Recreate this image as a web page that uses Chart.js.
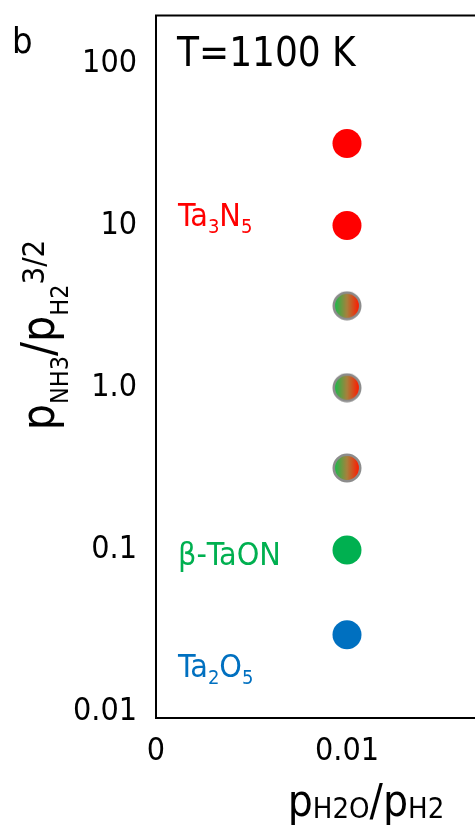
<!DOCTYPE html>
<html>
<head>
<meta charset="utf-8">
<script src="https://cdn.jsdelivr.net/npm/chart.js@4.4.1/dist/chart.umd.min.js"></script>
<style>
    html, body { margin: 0; padding: 0; background: #fff; overflow: hidden; }
    #wrap { width: 560px; height: 826px; }
</style>
</head>
<body>
<div id="wrap"><canvas id="phaseChart"></canvas></div>
<script>
// axis ticks
const xTickValues = [0, 0.01];
const xTickLabels = ['0', '0.01'];
const yTickValues = [100, 10, 1, 0.1, 0.01];
const yTickLabels = ['100', '10', '1.0', '0.1', '0.01'];

// measured points, all at pH2O/pH2 = 0.01
const waterRatio = 0.01;
const ta3n5Values = [32, 10];
const mixedValues = [3.2, 1, 0.32];
const taonValues = [0.1];
const ta2o5Values = [0.03];

// phase names: [text, 'sub' | 'sup' | ''] pieces
const ta3n5Name = [['Ta', ''], ['3', 'sub'], ['N', ''], ['5', 'sub']];
const taonName = [['β-TaON', '']];
const ta2o5Name = [['Ta', ''], ['2', 'sub'], ['O', ''], ['5', 'sub']];
const yTitle = [['p', ''], ['NH3', 'sub'], ['/p', ''], ['H2', 'sub'], ['3/2', 'sup']];
const xTitle = [['p', ''], ['H2O', 'sub'], ['/p', ''], ['H2', 'sub']];
const panelLetter = 'b';
const tempLabel = 'T=1100 K';

const FONT = '"DejaVu Sans Condensed", "DejaVu Sans", sans-serif';
const RED = '#FF0000';
const GREEN = '#00B050';
const BLUE = '#0070C0';

function points(values) {
    return values.map(v => ({ x: waterRatio, y: v }));
}

// red/green mixed marker
function mixedMarker() {
    const c = document.createElement('canvas');
    c.width = 30; c.height = 30;
    const g = c.getContext('2d');
    const grad = g.createLinearGradient(3, 0, 27, 0);
    grad.addColorStop(0, '#1FB84A');
    grad.addColorStop(0.5, '#A8803C');
    grad.addColorStop(1, '#FF1A00');
    g.beginPath();
    g.arc(15, 15, 13.2, 0, Math.PI * 2);
    g.fillStyle = grad;
    g.fill();
    g.lineWidth = 2.6;
    g.strokeStyle = '#8C8C8C';
    g.stroke();
    return c;
}

// style: {size, sub, subDy, sup, supDy}
function partFont(style, k) {
    return `${k === 'sub' ? style.sub : (k === 'sup' ? style.sup : style.size)}px ${FONT}`;
}

function drawRich(ctx, parts, x, y, style, color, align) {
    let total = 0;
    parts.forEach(([t, k]) => {
        ctx.font = partFont(style, k);
        total += ctx.measureText(t).width;
    });
    let cx = align === 'center' ? x - total / 2 : x;
    ctx.fillStyle = color;
    ctx.textAlign = 'left';
    ctx.textBaseline = 'alphabetic';
    parts.forEach(([t, k]) => {
        ctx.font = partFont(style, k);
        const dy = k === 'sub' ? style.subDy : (k === 'sup' ? style.supDy : 0);
        ctx.fillText(t, cx, y + dy);
        cx += ctx.measureText(t).width;
    });
}

const labelStyle = { size: 32, sub: 20, subDy: 7 };
const xTitleStyle = { size: 44, sub: 29, subDy: 2 };
const yTitleStyle = { size: 46, sub: 25, subDy: 14, sup: 31, supDy: -10 };

const decorations = {
    id: 'decorations',
    afterDraw(chart) {
        const { ctx, chartArea: a, scales } = chart;
        ctx.save();
        // plot frame
        ctx.strokeStyle = '#000';
        ctx.lineWidth = 2;
        ctx.strokeRect(a.left, a.top, a.right - a.left, a.bottom - a.top);

        ctx.fillStyle = '#000';
        ctx.font = `36px ${FONT}`;
        ctx.textBaseline = 'alphabetic';
        ctx.fillText(panelLetter, 12, 53);
        ctx.font = `40px ${FONT}`;
        ctx.fillText(tempLabel, a.left + 21, a.top + 50);

        const lx = a.left + 22;
        drawRich(ctx, ta3n5Name, lx, scales.y.getPixelForValue(ta3n5Values[1]) + 1, labelStyle, RED, 'left');
        drawRich(ctx, taonName, lx, scales.y.getPixelForValue(taonValues[0]) + 15, labelStyle, GREEN, 'left');
        drawRich(ctx, ta2o5Name, lx, scales.y.getPixelForValue(ta2o5Values[0]) + 42, labelStyle, BLUE, 'left');

        // axis titles
        drawRich(ctx, xTitle, 366, 816, xTitleStyle, '#000', 'center');
        ctx.translate(54, 335);
        ctx.rotate(-Math.PI / 2);
        drawRich(ctx, yTitle, 0, 0, yTitleStyle, '#000', 'center');
        ctx.restore();
    }
};

window.addEventListener('load', function () {
    const ctx = document.getElementById('phaseChart').getContext('2d');
    new Chart(ctx, {
        type: 'scatter',
        data: {
            datasets: [{
                label: 'Ta3N5',
                data: points(ta3n5Values),
                backgroundColor: RED,
                borderWidth: 0,
                pointRadius: 14.5
            }, {
                label: 'mixed',
                data: points(mixedValues),
                pointStyle: mixedMarker(),
                pointRadius: 14.5
            }, {
                label: 'β-TaON',
                data: points(taonValues),
                backgroundColor: GREEN,
                borderWidth: 0,
                pointRadius: 14.5
            }, {
                label: 'Ta2O5',
                data: points(ta2o5Values),
                backgroundColor: BLUE,
                borderWidth: 0,
                pointRadius: 14.5
            }]
        },
        options: {
            responsive: true,
            maintainAspectRatio: false,
            animation: false,
            events: [],
            layout: { padding: { top: 14, right: 22, left: 0, bottom: 0 } },
            plugins: {
                legend: { display: false },
                tooltip: { enabled: false }
            },
            scales: {
                x: {
                    type: 'linear',
                    min: 0,
                    max: 0.02,
                    afterFit: s => { s.height = 108; s.paddingLeft = 0; s.paddingRight = 0; },
                    afterBuildTicks: s => { s.ticks = xTickValues.map(v => ({ value: v })); },
                    grid: { display: false, drawTicks: false },
                    border: { display: false },
                    ticks: {
                        padding: 14,
                        color: '#000',
                        font: { family: FONT, size: 32 },
                        maxRotation: 0,
                        callback: (v, i) => xTickLabels[i]
                    }
                },
                y: {
                    type: 'logarithmic',
                    min: 0.0092,
                    max: 197,
                    afterFit: s => { s.width = 156; s.paddingTop = 0; s.paddingBottom = 0; },
                    afterBuildTicks: s => { s.ticks = yTickValues.map(v => ({ value: v })); },
                    grid: { display: false, drawTicks: false },
                    border: { display: false },
                    ticks: {
                        padding: 19,
                        color: '#000',
                        font: { family: FONT, size: 32 },
                        callback: (v, i) => yTickLabels[i]
                    }
                }
            }
        },
        plugins: [decorations]
    });
});
</script>
</body>
</html>
